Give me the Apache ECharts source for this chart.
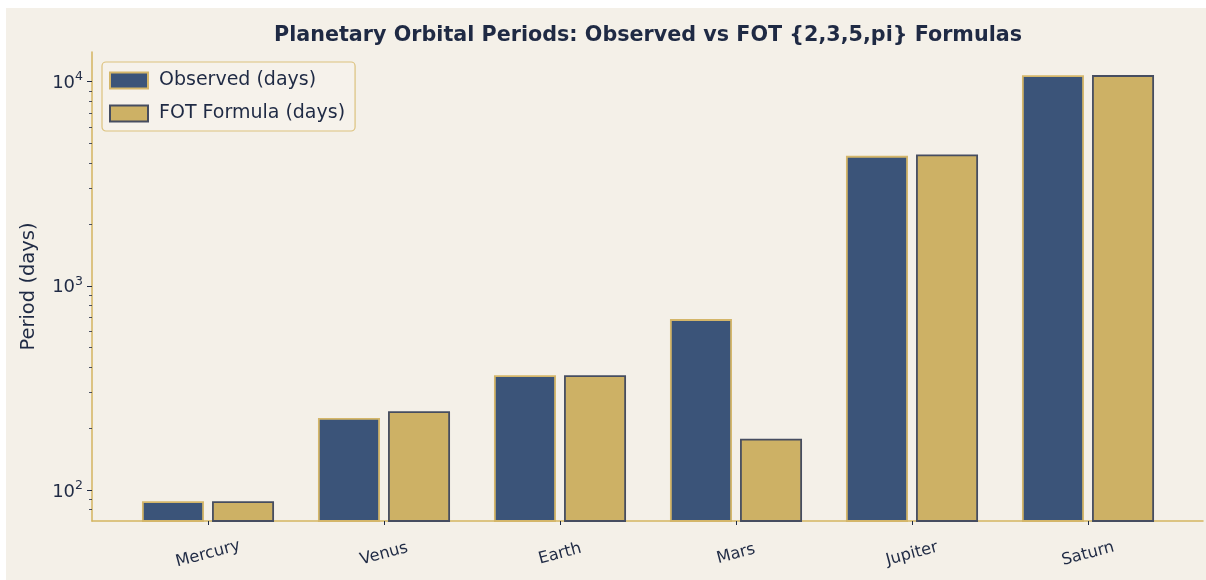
<!DOCTYPE html>
<html>
<head>
<meta charset="utf-8">
<script src="https://cdn.jsdelivr.net/npm/echarts@6/dist/echarts.min.js"></script>
<style>
  html, body { margin: 0; padding: 0; background: #ffffff; }
  #chart { position: absolute; left: 6px; top: 8px; width: 1200px; height: 572px; }
</style>
</head>
<body>
<div id="chart"></div>
<script>
const planets = ['Mercury', 'Venus', 'Earth', 'Mars', 'Jupiter', 'Saturn'];
const observed = [88, 225, 365, 687, 4333, 10759];
const fotFormula = [88, 243, 365, 178, 4400, 10780];
const majorTicks = [100, 1000, 10000];
const minorTicks = [70, 80, 90, 200, 300, 400, 500, 600, 700, 800, 900,
  2000, 3000, 4000, 5000, 6000, 7000, 8000, 9000];
const yMin = 88 * 0.8;
const yMax = 10759 * 1.3;

const ink = '#1f2a44';
const gold = '#d4b560';

const chart = echarts.init(document.getElementById('chart'));

const option = {
  backgroundColor: '#f4f0e8',
  animation: false,
  textStyle: { fontFamily: 'DejaVu Sans' },
  title: {
    text: 'Planetary Orbital Periods: Observed vs FOT {2,3,5,pi} Formulas',
    left: 637,
    top: 12,
    textAlign: 'center',
    textStyle: { fontSize: 20.7, fontWeight: 'bold', color: ink, fontFamily: 'DejaVu Sans' }
  },
  legend: {
    orient: 'vertical',
    left: 96,
    top: 54,
    padding: [9, 10, 8, 7],
    itemWidth: 38,
    itemHeight: 16,
    itemGap: 14,
    icon: 'rect',
    backgroundColor: 'rgba(246,242,235,0.9)',
    borderColor: '#dcc27e',
    borderWidth: 1.2,
    borderRadius: 4,
    textStyle: { fontSize: 19, color: ink, fontFamily: 'DejaVu Sans', padding: [0, 0, 0, 6] },
    data: ['Observed (days)', 'FOT Formula (days)']
  },
  grid: [
    { left: 86, top: 44, width: 1111, height: 469 },
    { left: 114, top: 44, width: 1056, height: 469 }
  ],
  xAxis: [
    {
      gridIndex: 0, type: 'value', min: 0, max: 1,
      axisLine: { show: true, lineStyle: { color: gold, width: 1.5 } },
      axisTick: { show: false }, axisLabel: { show: false }, splitLine: { show: false }
    },
    {
      gridIndex: 1, type: 'category', data: planets,
      axisLine: { show: false },
      axisTick: { show: true, alignWithLabel: true, length: 4, lineStyle: { color: ink, width: 1 } },
      axisLabel: {
        rotate: 15, align: 'center', verticalAlign: 'middle', margin: 33,
        fontSize: 16.3, color: ink, fontFamily: 'DejaVu Sans'
      },
      splitLine: { show: false }
    }
  ],
  yAxis: [
    {
      gridIndex: 0, type: 'log', logBase: 10, min: yMin, max: yMax, position: 'left',
      name: 'Period (days)', nameLocation: 'middle', nameRotate: 90, nameGap: 53,
      nameTextStyle: { fontSize: 19.5, color: ink, fontFamily: 'DejaVu Sans' },
      axisLine: { show: true, lineStyle: { color: gold, width: 1.5 } },
      axisTick: { show: true, length: 5, customValues: majorTicks, lineStyle: { color: ink, width: 1 } },
      axisLabel: {
        customValues: majorTicks, margin: 9, color: ink,
        formatter: function (v) {
          return '{b|10}{s|' + Math.round(Math.log10(v)) + '}';
        },
        rich: {
          b: { fontSize: 18, color: ink, fontFamily: 'DejaVu Sans', lineHeight: 22, verticalAlign: 'bottom' },
          s: { fontSize: 12.5, color: ink, fontFamily: 'DejaVu Sans', lineHeight: 13, verticalAlign: 'top' }
        }
      },
      splitLine: { show: false }
    },
    {
      gridIndex: 0, type: 'log', logBase: 10, min: yMin, max: yMax, position: 'left', offset: 0,
      axisLine: { show: false },
      axisTick: { show: true, length: 3, customValues: minorTicks, lineStyle: { color: ink, width: 0.8 } },
      axisLabel: { show: false },
      splitLine: { show: false }
    },
    {
      gridIndex: 1, type: 'log', logBase: 10, min: yMin, max: yMax, show: false,
      splitLine: { show: false }
    }
  ],
  series: [
    {
      name: 'Observed (days)', type: 'bar', xAxisIndex: 1, yAxisIndex: 2,
      barWidth: 62, barGap: '13%',
      itemStyle: { color: '#3b5479', borderColor: '#d4b66a', borderWidth: 1.8 },
      data: observed
    },
    {
      name: 'FOT Formula (days)', type: 'bar', xAxisIndex: 1, yAxisIndex: 2,
      barWidth: 62, barGap: '13%',
      itemStyle: { color: '#cdb165', borderColor: '#464d60', borderWidth: 1.8 },
      data: fotFormula
    }
  ]
};

chart.setOption(option);
window.addEventListener('resize', function () { chart.resize(); });
</script>
</body>
</html>
